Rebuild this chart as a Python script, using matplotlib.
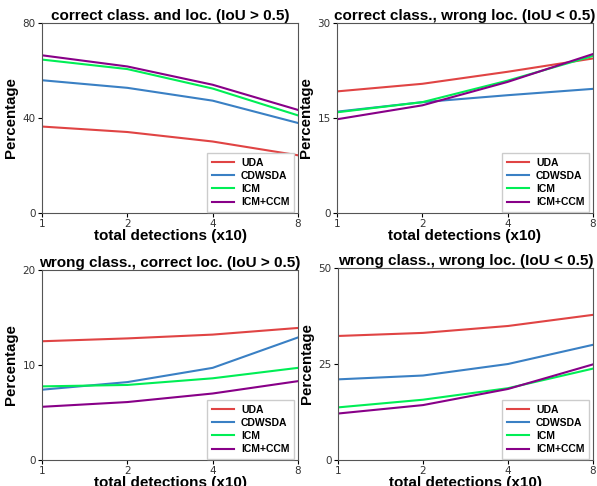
import numpy as np
import matplotlib
matplotlib.use('Agg')
import matplotlib.pyplot as plt

detections = [1, 2, 4, 8]
methods = ["UDA", "CDWSDA", "ICM", "ICM+CCM"]
colors = ['#e04444', '#3a80c4', '#00ee55', '#880088']

titles = ["correct class. and loc. (IoU > 0.5)",
          "correct class., wrong loc. (IoU < 0.5)",
          "wrong class., correct loc. (IoU > 0.5)",
          "wrong class., wrong loc. (IoU < 0.5)"]
ymax = [80, 30, 20, 50]

cls_loc = [[36.4, 34.1, 30.1, 24.3],
           [55.9, 52.7, 47.3, 37.9],
           [64.6, 60.6, 52.4, 41.1],
           [66.4, 61.7, 54.0, 43.4]]
cls_wrongloc = [[19.2, 20.4, 22.3, 24.4],
                [16.0, 17.5, 18.6, 19.6],
                [15.9, 17.5, 20.9, 24.8],
                [14.8, 17.0, 20.7, 25.1]]
wrongcls_loc = [[12.5, 12.8, 13.2, 13.9],
                [7.4, 8.2, 9.7, 12.9],
                [7.75, 7.9, 8.6, 9.7],
                [5.6, 6.1, 7.0, 8.3]]
wrongcls_wrongloc = [[32.3, 33.1, 34.9, 37.8],
                     [21.0, 22.0, 25.0, 30.0],
                     [13.7, 15.7, 18.7, 23.8],
                     [12.1, 14.3, 18.5, 24.9]]
all_data = [cls_loc, cls_wrongloc, wrongcls_loc, wrongcls_wrongloc]

bold = {'family': 'Liberation Sans', 'weight': 'bold'}

fig = plt.figure(figsize=(5.97, 4.86), dpi=100)
# axes boxes in pixels: left, top, right, bottom
boxes = [(42, 23, 298, 213), (337, 23, 593, 213),
         (42, 270, 298, 460), (338, 268, 593, 460)]
W, H = 597, 486
for k in range(4):
    l, t, r, b = boxes[k]
    ax = fig.add_axes([l / W, 1 - b / H, (r - l) / W, (b - t) / H])
    for i, m in enumerate(methods):
        ax.plot(detections, all_data[k][i], color=colors[i], lw=1.5, label=m)
    ax.set_xscale('log', base=2)
    ax.set_xlim(1, 8)
    ax.set_xticks(detections)
    ax.set_xticklabels([str(d) for d in detections])
    ax.minorticks_off()
    ax.set_ylim(0, ymax[k])
    ax.set_yticks([0, ymax[k] / 2, ymax[k]])
    ax.set_yticklabels([str(int(v)) for v in [0, ymax[k] / 2, ymax[k]]])
    ax.tick_params(labelsize=7.5, labelcolor='#333333', length=3, pad=1.5)
    for s in ax.spines.values():
        s.set_color('#555555')
    ax.set_title(titles[k], fontsize=11, pad=2, **bold)
    ax.set_xlabel('total detections (x10)', fontsize=11, labelpad=0, **bold)
    ax.set_ylabel('Percentage', fontsize=10.8, labelpad=3, **bold)
    ax.legend(loc='lower right', bbox_to_anchor=(0.985, 0.006), borderaxespad=0,
              prop={'family': 'Liberation Sans', 'weight': 'bold', 'size': 7.5},
              fancybox=False, framealpha=1, edgecolor='#cccccc',
              handlelength=2.1, handletextpad=0.7, borderpad=0.45, labelspacing=0.3)

fig.savefig('out.png', dpi=100)
